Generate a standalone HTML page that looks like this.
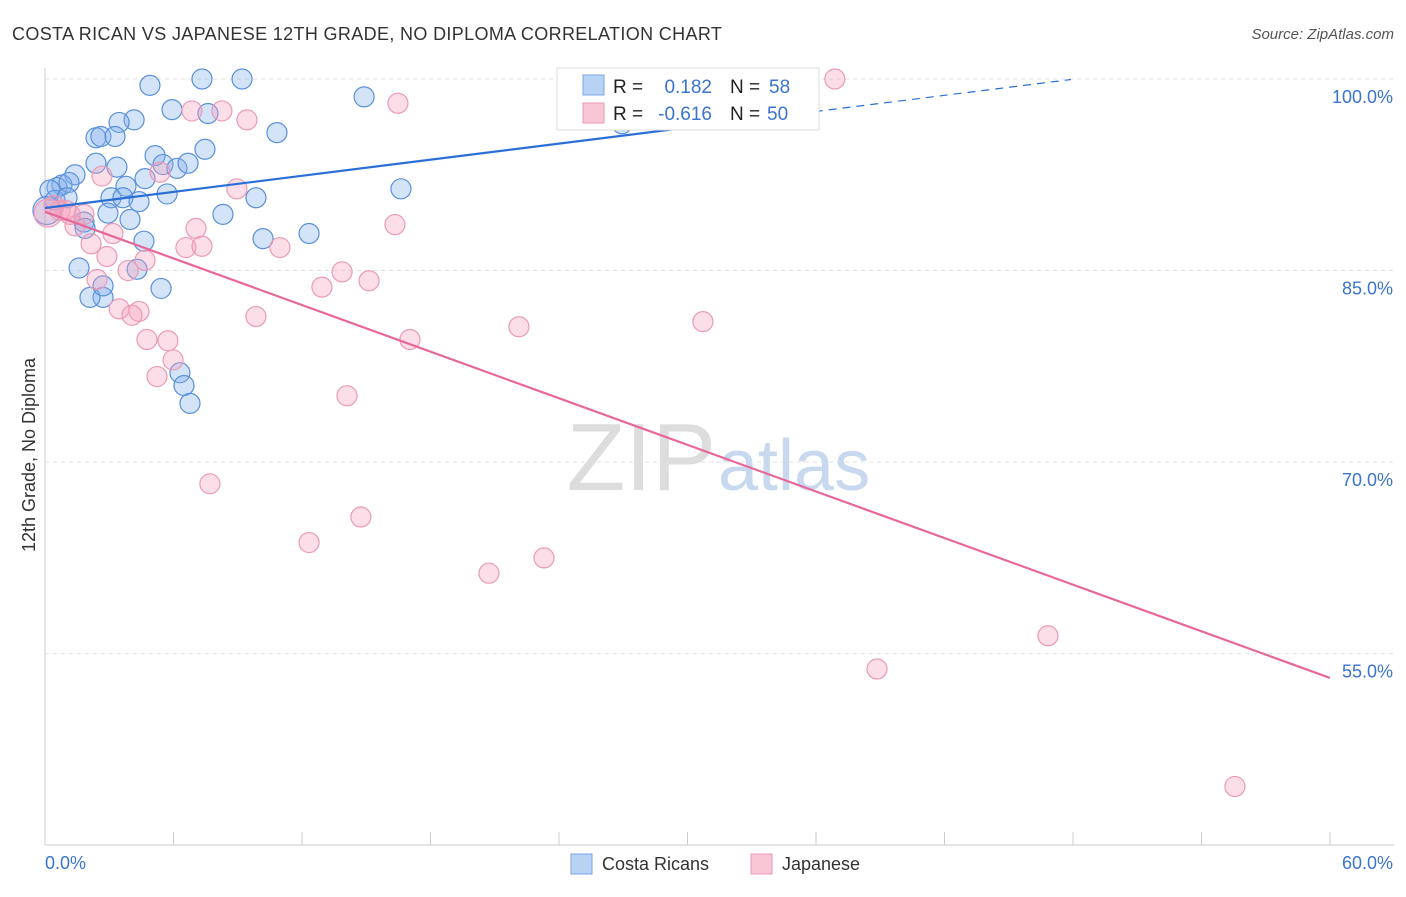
<!DOCTYPE html>
<html><head><meta charset="utf-8"><style>
body{margin:0;background:#fff;font-family:"Liberation Sans",sans-serif;}
svg text{font-family:"Liberation Sans",sans-serif;}
</style></head><body>
<svg id="chart" width="1406" height="892">
<text x="12" y="40" font-size="18" fill="#333" letter-spacing="0.35">COSTA RICAN VS JAPANESE 12TH GRADE, NO DIPLOMA CORRELATION CHART</text>
<text x="1394" y="39" font-size="15" fill="#555" text-anchor="end" font-style="italic">Source: ZipAtlas.com</text>
<g id="grid"></g>
<text x="716" y="490" font-size="96" fill="#ddd" text-anchor="end" font-family="Liberation Serif">ZIP</text>
<text x="718" y="490" font-size="72" fill="#c8d8ef">atlas</text>
<g id="pts"></g>
<g id="lines"></g>
<text transform="translate(35,455) rotate(-90)" font-size="18" fill="#333" text-anchor="middle">12th Grade, No Diploma</text>
<text x="45" y="869" font-size="18" fill="#3a73d0">0.0%</text>
<text x="1393" y="869" font-size="18" fill="#3a73d0" text-anchor="end">60.0%</text>
<g>
<rect x="557" y="68" width="262" height="62" fill="#fff" stroke="#ddd"/>
<rect x="583" y="75" width="21" height="20" fill="#b8d2f4" stroke="#7aa6e4"/>
<rect x="583" y="103" width="21" height="20" fill="#f9c6d6" stroke="#eb9ab5"/>
<text x="613" y="93" font-size="19" fill="#222">R =</text>
<text x="712" y="93" font-size="19" fill="#3a73d0" text-anchor="end">0.182</text>
<text x="730" y="93" font-size="19" fill="#222">N =</text>
<text x="769" y="93" font-size="19" fill="#3a73d0">58</text>
<text x="613" y="120" font-size="19" fill="#222">R =</text>
<text x="712" y="120" font-size="19" fill="#3a73d0" text-anchor="end">-0.616</text>
<text x="730" y="120" font-size="19" fill="#222">N =</text>
<text x="767" y="120" font-size="19" fill="#3a73d0">50</text>
</g>
<g>
<rect x="571" y="854" width="21" height="20" fill="#b8d2f4" stroke="#7aa6e4"/>
<text x="602" y="870" font-size="18" fill="#333">Costa Ricans</text>
<rect x="751" y="854" width="21" height="20" fill="#f9c6d6" stroke="#eb9ab5"/>
<text x="782" y="870" font-size="18" fill="#333">Japanese</text>
</g>
</svg>
<script>
const yTicks=[100,85,70,55];
const yTickLabels=["100.0%","85.0%","70.0%","55.0%"];
const blueX=[4.90,7.33,9.20,14.9,5.93,7.61,4.16,3.46,2.38,2.61,3.27,10.83,5.14,7.47,2.38,3.36,5.51,6.16,6.68,1.40,4.67,3.78,16.62,5.70,3.08,0.79,0.56,1.12,0.23,0.47,1.03,3.64,4.39,9.85,2.94,3.97,1.82,8.31,1.87,10.18,12.33,4.62,1.59,4.30,5.42,2.71,2.10,2.71,6.30,6.49,6.77,26.94,0.09];
const blueY=[99.5,100,100,98.6,97.6,97.3,96.8,96.6,95.4,95.5,95.5,95.8,94.0,94.5,93.4,93.1,93.3,93.0,93.4,92.5,92.2,91.6,91.4,91.0,90.7,91.7,91.5,91.9,91.3,90.5,90.7,90.7,90.4,90.7,89.5,89.0,88.8,89.4,88.3,87.5,87.9,87.3,85.2,85.1,83.6,82.9,82.9,83.8,77.0,76.0,74.6,96.5,89.7];
const pinkX=[36.88,16.48,6.86,8.26,9.43,8.96,5.37,2.66,16.34,1.82,0.98,0.42,0.14,1.40,7.05,3.17,2.15,6.58,7.33,10.97,2.89,4.67,3.88,13.87,15.13,12.93,2.43,3.46,4.39,4.06,9.85,22.13,30.72,17.04,4.76,5.74,5.98,5.23,14.10,7.70,14.75,12.33,23.30,20.73,46.83,38.85,55.56,0.70,1.17];
const pinkY=[100,98.1,97.5,97.5,96.8,91.4,92.7,92.4,88.6,89.4,89.7,90.1,89.5,88.5,88.3,87.9,87.1,86.8,86.9,86.8,86.1,85.8,85.0,84.9,84.2,83.7,84.3,82.0,81.8,81.5,81.4,80.6,81.0,79.6,79.6,79.5,78.0,76.7,75.2,68.3,65.7,63.7,62.5,61.3,56.4,53.8,44.6,89.7,89.4];
const blueTrend=[89.9,102.5];
const pinkTrend=[89.6,53.1];
const sx=v=>45+v/60*1285;
const sy=v=>79+(100-v)*12.77;
const NS="http://www.w3.org/2000/svg";
function mk(t,a,p){const e=document.createElementNS(NS,t);for(const k in a)e.setAttribute(k,a[k]);p.appendChild(e);return e;}
const grid=document.getElementById('grid');
mk('line',{x1:45,y1:68,x2:45,y2:845,stroke:'#ccc'},grid);
mk('line',{x1:45,y1:845,x2:1394,y2:845,stroke:'#ccc'},grid);
for(let i=0;i<=10;i++){const l=mk('line',{x1:sx(i*6),x2:sx(i*6),y1:832,y2:845,stroke:'#ccc'},grid);}
yTicks.forEach((t,i)=>{
 const g=mk('line',{x1:45,x2:1394,y1:sy(t),y2:sy(t),stroke:'#e2e2e2','stroke-dasharray':'4,4'},grid);
 
 
 const tx=mk('text',{x:1393,y:sy(t)+24,'font-size':18,fill:'#3a73d0','text-anchor':'end'},grid);
 tx.textContent=yTickLabels[i];
 
 
});
const pts=document.getElementById('pts');
function dots(X,Y,fill,stroke,name){X.forEach((x,i)=>{
 const r=(x<0.2)?14:10;
 const c=mk('circle',{cx:sx(x),cy:sy(Y[i]),r:r,fill:fill,stroke:stroke,'stroke-width':1.2},pts);
 
 
});}
dots(blueX,blueY,'rgba(130,175,235,0.35)','#5a90dc','costa-rican-point');
dots(pinkX,pinkY,'rgba(245,160,190,0.35)','#eb9ab5','japanese-point');
const lines=document.getElementById('lines');
const bAt=x=>blueTrend[0]+(blueTrend[1]-blueTrend[0])*x/60;
const l1=mk('line',{x1:sx(0),y1:sy(bAt(0)),x2:sx(30.1),y2:sy(bAt(30.1)),stroke:'#2a6fd6','stroke-width':2.2},lines);


const l2=mk('line',{x1:sx(30.1),y1:sy(bAt(30.1)),x2:sx(47.9),y2:sy(bAt(47.9)),stroke:'#2a6fd6','stroke-width':1.2,'stroke-dasharray':'8,6'},lines);


const l3=mk('line',{x1:sx(0),y1:sy(pinkTrend[0]),x2:sx(60),y2:sy(pinkTrend[1]),stroke:'#e8679a','stroke-width':2.2},lines);


</script>
</body></html>
